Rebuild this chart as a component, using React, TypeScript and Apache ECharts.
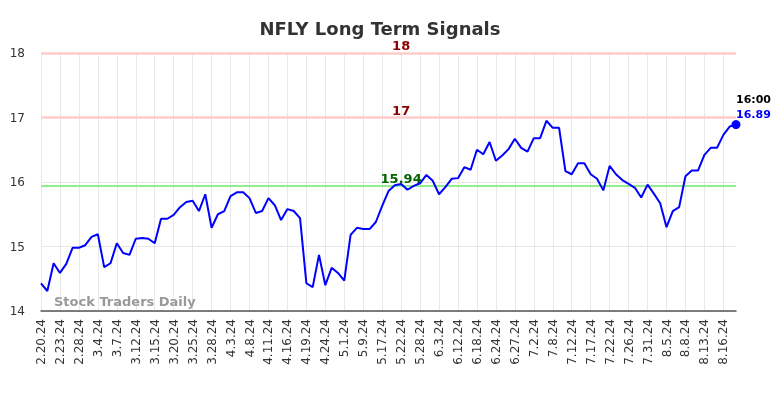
import React, { useEffect, useRef } from "react";
import * as echarts from "echarts";

const dates: string[] = [
  "2.20.24", "2.21.24", "2.22.24", "2.23.24", "2.26.24", "2.27.24", "2.28.24", "2.29.24", "3.1.24",
  "3.4.24", "3.5.24", "3.6.24", "3.7.24", "3.8.24", "3.11.24", "3.12.24", "3.13.24", "3.14.24",
  "3.15.24", "3.18.24", "3.19.24", "3.20.24", "3.21.24", "3.22.24", "3.25.24", "3.26.24", "3.27.24",
  "3.28.24", "4.1.24", "4.2.24", "4.3.24", "4.4.24", "4.5.24", "4.8.24", "4.9.24", "4.10.24",
  "4.11.24", "4.12.24", "4.15.24", "4.16.24", "4.17.24", "4.18.24", "4.19.24", "4.22.24", "4.23.24",
  "4.24.24", "4.26.24", "4.29.24", "5.1.24", "5.3.24", "5.7.24", "5.9.24", "5.13.24", "5.15.24",
  "5.17.24", "5.20.24", "5.21.24", "5.22.24", "5.23.24", "5.24.24", "5.28.24", "5.30.24", "5.31.24",
  "6.3.24", "6.5.24", "6.10.24", "6.12.24", "6.14.24", "6.17.24", "6.18.24", "6.20.24", "6.21.24",
  "6.24.24", "6.25.24", "6.26.24", "6.27.24", "6.28.24", "7.1.24", "7.2.24", "7.3.24", "7.5.24",
  "7.8.24", "7.9.24", "7.11.24", "7.12.24", "7.15.24", "7.16.24", "7.17.24", "7.18.24", "7.19.24",
  "7.22.24", "7.23.24", "7.25.24", "7.26.24", "7.29.24", "7.30.24", "7.31.24", "8.1.24", "8.2.24",
  "8.5.24", "8.6.24", "8.7.24", "8.8.24", "8.9.24", "8.12.24", "8.13.24", "8.14.24", "8.15.24",
  "8.16.24", "8.19.24", "8.20.24",
];

const prices: number[] = [
  14.43, 14.31, 14.74, 14.59, 14.73, 14.98, 14.98, 15.02, 15.15,
  15.19, 14.68, 14.74, 15.05, 14.9, 14.87, 15.12, 15.13, 15.12,
  15.05, 15.43, 15.43, 15.49, 15.61, 15.69, 15.71, 15.55, 15.81,
  15.29, 15.5, 15.55, 15.78, 15.84, 15.84, 15.75, 15.52, 15.55,
  15.75, 15.64, 15.41, 15.58, 15.55, 15.44, 14.43, 14.37, 14.87,
  14.4, 14.67, 14.59, 14.47, 15.18, 15.29, 15.27, 15.27, 15.38,
  15.63, 15.86, 15.95, 15.97, 15.88, 15.94, 15.98, 16.11, 16.02,
  15.81, 15.92, 16.05, 16.06, 16.23, 16.19, 16.5, 16.43, 16.62,
  16.33, 16.41, 16.51, 16.67, 16.53, 16.47, 16.68, 16.68, 16.95,
  16.84, 16.84, 16.17, 16.12, 16.29, 16.29, 16.12, 16.05, 15.87,
  16.25, 16.12, 16.03, 15.97, 15.91, 15.76, 15.96, 15.82, 15.67,
  15.3, 15.55, 15.61, 16.09, 16.18, 16.18, 16.42, 16.53, 16.53,
  16.73, 16.86, 16.89,
];

const upperLevels: number[] = [18, 17];
const lowerLevels: number[] = [15.94];
const lastTime = "16:00";
const labelIndex = 57;

export default function App() {
  const ref = useRef<HTMLDivElement>(null);
  useEffect(() => {
    const chart = echarts.init(ref.current!, null, { renderer: "svg" });
    const lastIdx = prices.length - 1;
    const font = "DejaVu Sans";
    const lineLevels = [
      ...upperLevels.map((v) => ({ v, line: "#ffcccc", text: "#8b0000", w: 2.5 })),
      ...lowerLevels.map((v) => ({ v, line: "#90ee90", text: "#006400", w: 2 })),
    ];
    chart.setOption({
      animation: false,
      title: {
        text: "NFLY Long Term Signals",
        left: 375,
        top: 14,
        textAlign: "center",
        textStyle: { fontFamily: font, fontSize: 18, fontWeight: "bold", color: "#333" },
      },
      grid: { left: 41, right: 48, top: 53, bottom: 87 },
      xAxis: {
        type: "category",
        data: dates,
        boundaryGap: false,
        axisLine: { lineStyle: { color: "#555", width: 1.5 } },
        axisTick: { show: false },
        axisLabel: {
          interval: 2,
          rotate: 90,
          fontSize: 12,
          color: "#333",
          fontFamily: font,
          margin: 8,
        },
        splitLine: { show: true, interval: 2, lineStyle: { color: "#e8e8e8", width: 1 } },
      },
      yAxis: {
        type: "value",
        min: 14,
        max: 18,
        interval: 1,
        axisLine: { show: false },
        axisTick: { show: false },
        axisLabel: { fontSize: 12, color: "#333", fontFamily: font, margin: 16 },
        splitLine: { lineStyle: { color: "#e6e6e6", width: 1 } },
      },
      graphic: [
        {
          type: "text",
          left: 54,
          top: 295,
          z: 10,
          style: { text: "Stock Traders Daily", fill: "#999", font: `bold 13px "${font}"` },
        },
      ],
      series: [
        {
          type: "line",
          data: prices,
          symbol: "none",
          lineStyle: { color: "#0000ff", width: 2 },
          z: 5,
          markLine: {
            silent: true,
            symbol: "none",
            label: { show: false },
            data: lineLevels.map((l) => ({
              yAxis: l.v,
              lineStyle: { color: l.line, width: l.w, type: "solid" },
            })),
          },
          markPoint: {
            silent: true,
            data: [
              ...lineLevels.map((l) => ({
                coord: [labelIndex, l.v],
                symbol: "circle",
                symbolSize: 0,
                label: {
                  show: true,
                  position: "top",
                  distance: 1,
                  formatter: String(l.v),
                  color: l.text,
                  fontFamily: font,
                  fontSize: 13,
                  fontWeight: "bold",
                },
              })),
              {
                coord: [lastIdx, prices[lastIdx]],
                symbol: "circle",
                symbolSize: 9,
                itemStyle: { color: "#0000ff" },
                label: {
                  show: true,
                  position: "top",
                  align: "left",
                  distance: -2,
                  formatter: `{t|${lastTime}}\n{v|${prices[lastIdx].toFixed(2)}}`,
                  rich: {
                    t: { color: "#000", fontFamily: font, fontSize: 11, fontWeight: "bold", lineHeight: 15 },
                    v: { color: "#0000ff", fontFamily: font, fontSize: 11, fontWeight: "bold", lineHeight: 15 },
                  },
                },
              },
            ],
          },
        },
      ],
    });
    return () => chart.dispose();
  }, []);
  return (
    <div
      ref={ref}
      style={{ position: "fixed", left: 0, top: 0, width: 784, height: 398 }}
    />
  );
}
